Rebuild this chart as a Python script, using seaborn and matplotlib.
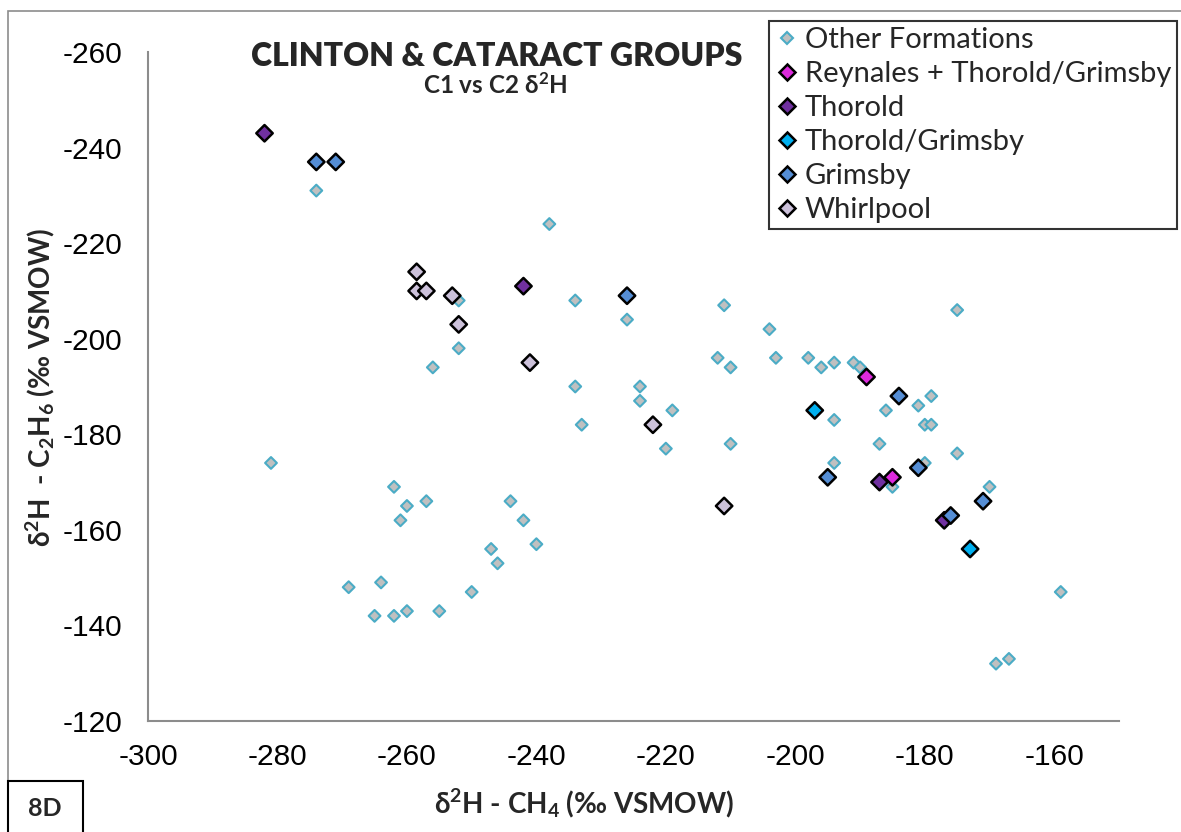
import matplotlib
matplotlib.use("Agg")
import matplotlib.pyplot as plt
from matplotlib.patches import Rectangle
import seaborn as sns
import pandas as pd

# delta-2H of methane (C1) and ethane (C2), per formation group
other_c1 = [-274, -238, -252, -252, -256, -234, -226, -234, -233, -224, -224, -219, -220,
            -211, -212, -210, -210, -204, -203, -198, -196, -194, -191, -190, -175, -186,
            -181, -179, -180, -179, -194, -187, -175, -194, -180, -185, -170, -159, -169,
            -167, -281, -262, -260, -261, -257, -244, -242, -240, -247, -246, -250, -269,
            -264, -265, -262, -260, -255]
other_c2 = [-231, -224, -208, -198, -194, -208, -204, -190, -182, -190, -187, -185, -177,
            -207, -196, -194, -178, -202, -196, -196, -194, -195, -195, -194, -206, -185,
            -186, -188, -182, -182, -183, -178, -176, -174, -174, -169, -169, -147, -132,
            -133, -174, -169, -165, -162, -166, -166, -162, -157, -156, -153, -147, -148,
            -149, -142, -142, -143, -143]

reynales_c1 = [-189, -185]
reynales_c2 = [-192, -171]

thorold_c1 = [-282, -242, -187, -177]
thorold_c2 = [-243, -211, -170, -162]

thorold_grimsby_c1 = [-197, -173]
thorold_grimsby_c2 = [-185, -156]

grimsby_c1 = [-274, -271, -226, -184, -195, -181, -176, -171]
grimsby_c2 = [-237, -237, -209, -188, -171, -173, -163, -166]

whirlpool_c1 = [-258.5, -258.5, -257, -253, -252, -241, -222, -211]
whirlpool_c2 = [-214, -210, -210, -209, -203, -195, -182, -165]

groups = ["Reynales + Thorold/Grimsby", "Thorold", "Thorold/Grimsby", "Grimsby", "Whirlpool"]
group_colors = ["#DD2ADD", "#7030A0", "#00B0F0", "#558ED5", "#CCC1DA"]

x_ticks = [-300, -280, -260, -240, -220, -200, -180, -160]
y_ticks = [-260, -240, -220, -200, -180, -160, -140, -120]

others = pd.DataFrame({"c1": other_c1, "c2": other_c2, "group": "Other Formations"})
named = pd.concat([
    pd.DataFrame({"c1": c1, "c2": c2, "group": g})
    for g, c1, c2 in zip(groups,
                         [reynales_c1, thorold_c1, thorold_grimsby_c1, grimsby_c1, whirlpool_c1],
                         [reynales_c2, thorold_c2, thorold_grimsby_c2, grimsby_c2, whirlpool_c2])
], ignore_index=True)

sns.set_theme(style="white")
plt.rcParams["font.family"] = ["Lato", "DejaVu Sans"]
plt.rcParams["mathtext.fontset"] = "custom"
plt.rcParams["mathtext.rm"] = "Lato:bold"
plt.rcParams["mathtext.bf"] = "Lato:bold"
plt.rcParams["mathtext.default"] = "rm"

W, H = 1181, 832
fig = plt.figure(figsize=(W / 100, H / 100), dpi=100)
ax = fig.add_axes([148 / W, 1 - 721 / H, (1119 - 148) / W, (721 - 52) / H])

sns.scatterplot(data=others, x="c1", y="c2", hue="group", palette=["#C0C0C0"],
                marker="D", s=36, edgecolor="#4BACC6", linewidth=1.5, ax=ax, zorder=3)
sns.scatterplot(data=named, x="c1", y="c2", hue="group", hue_order=groups,
                palette=group_colors, marker="D", s=70, edgecolor="black",
                linewidth=1.8, ax=ax, zorder=4)

ax.set_xlim(-300, -150)
ax.set_ylim(-120, -260)
ax.set_xticks(x_ticks)
ax.set_yticks(y_ticks)
ax.set_xticklabels([str(v) for v in x_ticks], family="Liberation Sans", fontsize=21.5)
ax.set_yticklabels([str(v) for v in y_ticks], family="Liberation Sans", fontsize=21.5)
ax.set_xlabel("")
ax.set_ylabel("")
for side in ["top", "right"]:
    ax.spines[side].set_visible(False)
for side in ["left", "bottom"]:
    ax.spines[side].set_color("#8C8C8C")
    ax.spines[side].set_linewidth(1.5)
ax.tick_params(axis="both", direction="inout", length=9.5, width=1.3, color="#8C8C8C",
               labelcolor="black")
ax.tick_params(axis="x", pad=11)
ax.tick_params(axis="y", pad=14)
ax.grid(False)

handles, labels = ax.get_legend_handles_labels()
ax.get_legend().remove()
leg = fig.legend(handles, labels, loc="upper left", bbox_to_anchor=(769 / W, 1 - 21 / H),
                 bbox_transform=fig.transFigure, fontsize=21, frameon=True, fancybox=False,
                 edgecolor="black", borderpad=0.22, labelspacing=0.27, handlelength=0.8,
                 handletextpad=0.2, borderaxespad=0)
leg.get_frame().set_linewidth(1.5)

# outer chart-area frame and panel tag
fig.add_artist(Rectangle((8 / W, -0.5), 1.5, 0.5 + 1 - 11 / H, transform=fig.transFigure,
                         fill=False, edgecolor="#8C8C8C", linewidth=1.2, zorder=0))
fig.add_artist(Rectangle((8 / W, -0.1), 75 / W, 0.1 + 1 - 781 / H, transform=fig.transFigure,
                         facecolor="white", edgecolor="black", linewidth=1.5, zorder=5))
fig.text(45 / W, 1 - 808 / H, "8D", ha="center", va="center", fontsize=18,
         fontweight="bold", zorder=6)

fig.text(497 / W, 1 - 66 / H, "CLINTON & CATARACT GROUPS", ha="center", va="baseline",
         fontsize=23, fontweight="heavy")
fig.text(495 / W, 1 - 94 / H, r"C1 vs C2 δ$^{2}$H", ha="center", va="baseline",
         fontsize=17.5, fontweight="bold")

fig.text(584 / W, 1 - 803 / H, r"δ$^{2}$H - CH$_{4}$ (‰ VSMOW)",
         ha="center", va="center", fontsize=20, fontweight="bold")
fig.text(40 / W, 1 - 388 / H, r"δ$^{2}$H  - C$_{2}$H$_{6}$ (‰ VSMOW)",
         ha="center", va="center", rotation=90, fontsize=20, fontweight="bold")

fig.savefig("out.png", dpi=100)
